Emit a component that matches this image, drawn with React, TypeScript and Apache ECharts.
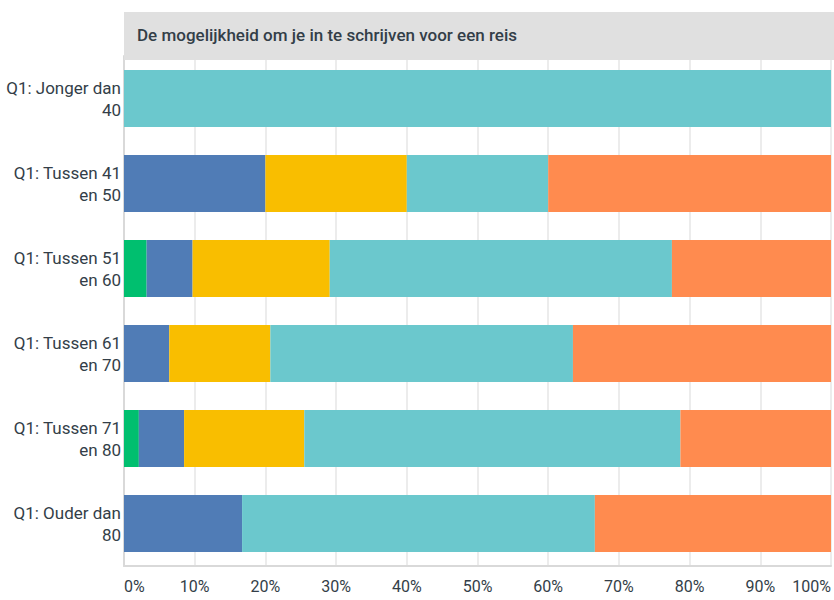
import React, { useEffect, useRef } from "react";
import * as echarts from "echarts";

const title = "De mogelijkheid om je in te schrijven voor een reis";
const categories = [
  "Q1: Jonger dan 40",
  "Q1: Tussen 41 en 50",
  "Q1: Tussen 51 en 60",
  "Q1: Tussen 61 en 70",
  "Q1: Tussen 71 en 80",
  "Q1: Ouder dan 80",
];
const seriesNames = ["Antwoord 1", "Antwoord 2", "Antwoord 3", "Antwoord 4", "Antwoord 5"];
const greenValues = [0, 0, 3.2, 0, 2.1, 0];
const blueValues = [0, 20, 6.5, 6.4, 6.4, 16.7];
const yellowValues = [0, 20, 19.4, 14.3, 17.0, 0];
const tealValues = [100, 20, 48.4, 42.8, 53.2, 49.9];
const orangeValues = [0, 40, 22.5, 36.5, 21.3, 33.4];
const colors = ["#00bf6f", "#507cb6", "#f9be00", "#6bc8cd", "#ff8b4f"];
const tickLabels = ["0%", "10%", "20%", "30%", "40%", "50%", "60%", "70%", "80%", "90%", "100%"];

export default function App() {
  const ref = useRef<HTMLDivElement>(null);
  useEffect(() => {
    if (!ref.current) return;
    const chart = echarts.init(ref.current, null, { renderer: "svg" });
    const allValues = [greenValues, blueValues, yellowValues, tealValues, orangeValues];
    const font = "Roboto, 'Noto Sans', sans-serif";
    chart.setOption({
      animation: false,
      grid: { left: 124, right: 2, top: 56, bottom: 34, containLabel: false },
      xAxis: {
        type: "value",
        min: 0,
        max: 100,
        interval: 10,
        axisLine: { show: true, lineStyle: { color: "#d9d9d9", width: 2 } },
        axisTick: { show: false },
        splitLine: { show: true, lineStyle: { color: "#ececec", width: 2 } },
        axisLabel: {
          color: "#333e48",
          fontFamily: font,
          fontSize: 16,
          margin: 12,
          alignMinLabel: "left",
          alignMaxLabel: "right",
          formatter: (v: number) => tickLabels[Math.round(v / 10)],
        },
      },
      yAxis: {
        type: "category",
        data: categories,
        inverse: true,
        axisLine: { show: true, lineStyle: { color: "#d9d9d9", width: 2 } },
        axisTick: { show: false },
        axisLabel: {
          color: "#333e48",
          fontFamily: font,
          fontSize: 17,
          lineHeight: 22,
          margin: 3,
          align: "right",
          formatter: (v: string) => {
            const w = v.split(" ");
            return w.slice(0, 3).join(" ") + "\n" + w.slice(3).join(" ");
          },
        },
      },
      series: allValues.map((vals, i) => ({
        name: seriesNames[i],
        type: "bar",
        stack: "total",
        barWidth: 57,
        data: vals,
        itemStyle: { color: colors[i] },
      })),
      graphic: [
        {
          type: "rect",
          shape: { x: 124, y: 12, width: 710, height: 48 },
          style: { fill: "#e0e0e0" },
          z: 100,
        },
        {
          type: "text",
          x: 137,
          y: 35,
          z: 101,
          style: {
            text: title,
            fill: "#333e48",
            font: "500 17px Roboto, 'Noto Sans', sans-serif",
            verticalAlign: "middle",
          },
        },
      ],
    });
    return () => chart.dispose();
  }, []);
  return <div ref={ref} style={{ width: 834, height: 600, position: "absolute", left: 0, top: 0 }} />;
}
